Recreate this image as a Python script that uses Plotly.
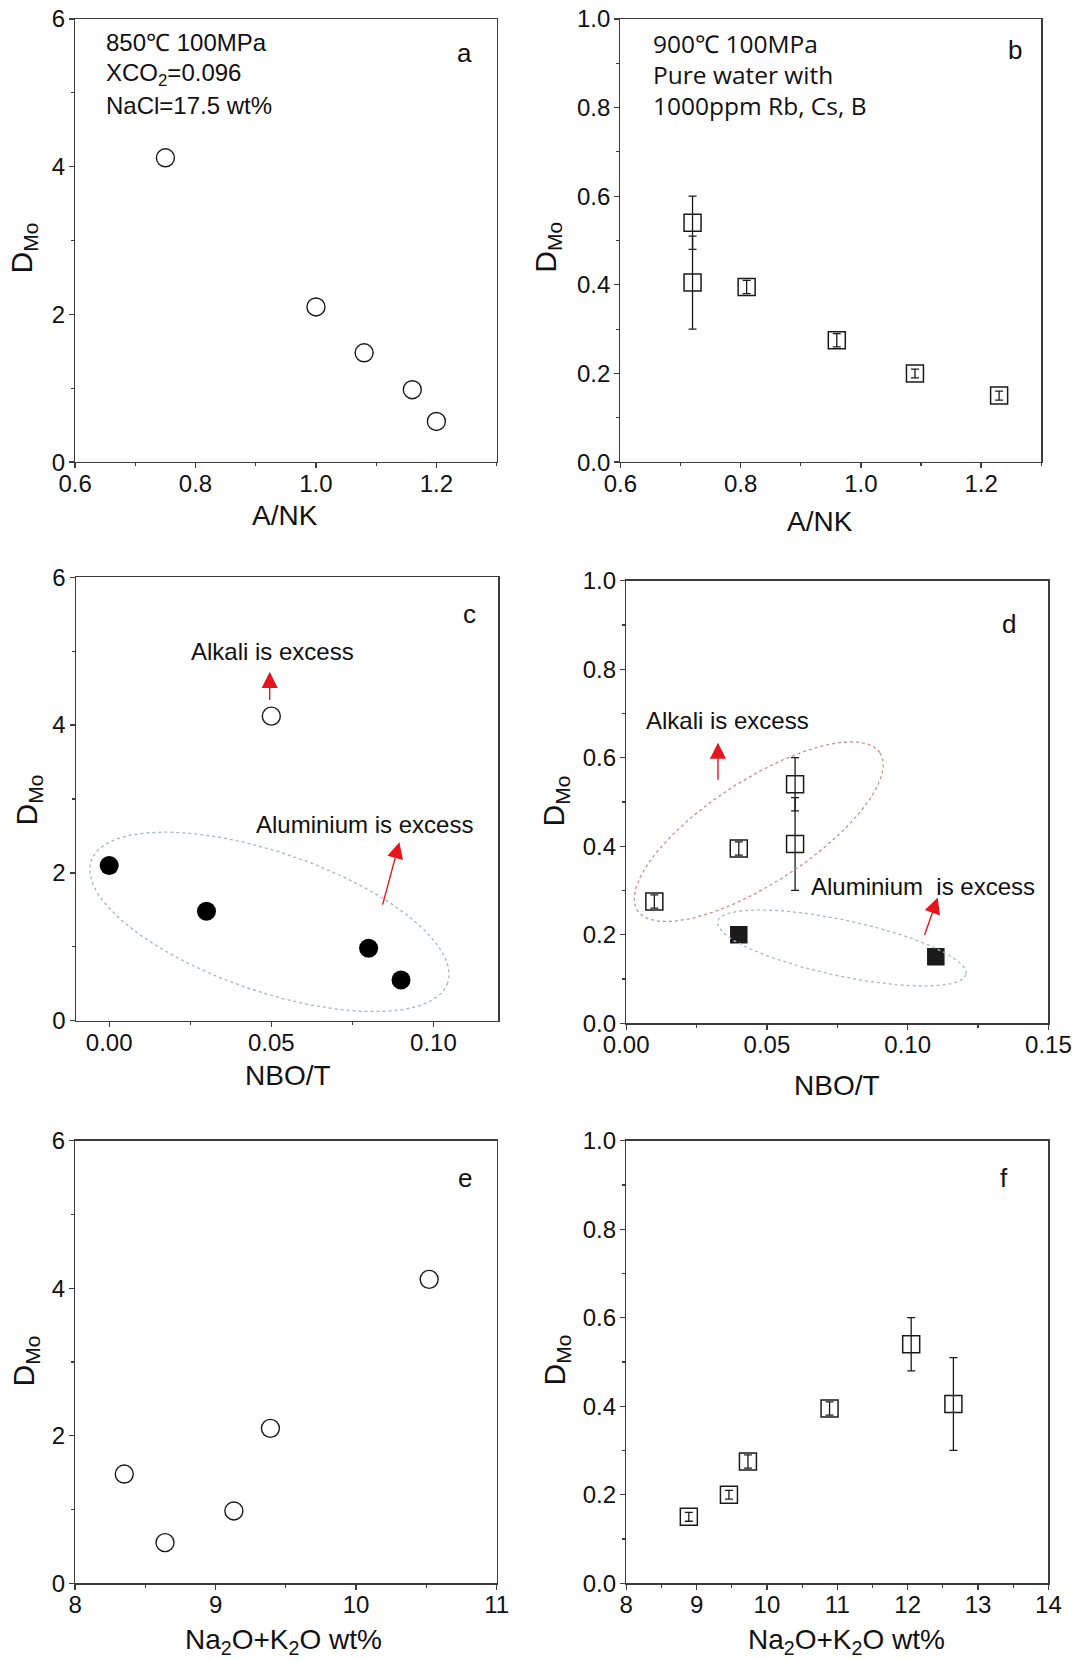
import numpy as np
import plotly.graph_objects as go

# ---------------- data ----------------
# Experiment series 1 (850 C, 100 MPa, XCO2=0.096, NaCl=17.5 wt%)
exp1_ank = [0.75, 1.00, 1.08, 1.16, 1.20]
exp1_nbot = [0.05, 0.00, 0.03, 0.08, 0.09]
exp1_alk = [10.52, 9.39, 8.35, 9.13, 8.64]
exp1_dmo = [4.12, 2.10, 1.48, 0.98, 0.55]

# Experiment series 2 (900 C, 100 MPa, pure water with 1000 ppm Rb, Cs, B)
exp2_ank = [0.72, 0.72, 0.81, 0.96, 1.09, 1.23]
exp2_nbot = [0.06, 0.06, 0.04, 0.01, 0.04, 0.11]
exp2_alk = [12.05, 12.65, 10.89, 9.73, 9.46, 8.89]
exp2_dmo = [0.54, 0.405, 0.395, 0.275, 0.20, 0.15]
exp2_err = [0.06, 0.105, 0.015, 0.015, 0.01, 0.01]

# ---------------- layout geometry ----------------
W, H = 1076, 1660
FONT = "Liberation Sans, Arial, sans-serif"
LINE = "#3c3c3c"
INK = "#1a1a1a"
RED = "#e8141c"

boxes = {  # left, right, top, bottom in pixels
    1: (75.1, 496.6, 18.9, 462.1),
    2: (620.4, 1041.2, 18.9, 462.1),
    3: (75.8, 498.3, 577.2, 1020.7),
    4: (626.2, 1048.4, 580.7, 1023.2),
    5: (75.1, 496.6, 1140.7, 1583.2),
    6: (626.2, 1048.4, 1140.7, 1583.2),
}
xranges = {1: [0.6, 1.3], 2: [0.6, 1.3], 3: [-0.0103, 0.12], 4: [0, 0.15], 5: [8, 11], 6: [8, 14]}
yranges = {1: [0, 6], 2: [0, 1], 3: [0, 6], 4: [0, 1], 5: [0, 6], 6: [0, 1]}
xticks = {1: (0.6, 0.2, 0.1, ".1f"), 2: (0.6, 0.2, 0.1, ".1f"), 3: (0, 0.05, 0.025, ".2f"),
          4: (0, 0.05, 0.025, ".2f"), 5: (8, 1, 0.5, "d"), 6: (8, 1, 0.5, "d")}
yticks = {1: (0, 2, 1, "d"), 2: (0, 0.2, 0.1, ".1f"), 3: (0, 2, 1, "d"),
          4: (0, 0.2, 0.1, ".1f"), 5: (0, 2, 1, "d"), 6: (0, 0.2, 0.1, ".1f")}


def px(xp):
    return xp / W


def py(yp):
    return 1 - yp / H


fig = go.Figure()

# ---------------- traces ----------------
def open_circles(x, y, i):
    fig.add_trace(go.Scatter(x=x, y=y, mode="markers", xaxis=f"x{i}", yaxis=f"y{i}",
                             marker=dict(symbol="circle-open", size=18, color=INK, line=dict(width=1.4)),
                             showlegend=False, hoverinfo="skip"))


def squares(x, y, e, i, filled=False):
    fig.add_trace(go.Scatter(x=x, y=y, mode="markers", xaxis=f"x{i}", yaxis=f"y{i}",
                             error_y=dict(type="data", array=e, visible=True, color=INK, thickness=1.3, width=4),
                             marker=dict(symbol="square" if filled else "square-open", size=17 if not filled else 16,
                                         color=INK, line=dict(width=1.5, color=INK)),
                             showlegend=False, hoverinfo="skip"))


open_circles(exp1_ank, exp1_dmo, 1)
squares(exp2_ank, exp2_dmo, exp2_err, 2)

# panel c: open = alkali excess (A/NK < 1), filled = aluminium excess
c_open = [k for k in range(len(exp1_ank)) if exp1_ank[k] < 1]
c_fill = [k for k in range(len(exp1_ank)) if exp1_ank[k] >= 1]
open_circles([exp1_nbot[k] for k in c_open], [exp1_dmo[k] for k in c_open], 3)
fig.add_trace(go.Scatter(x=[exp1_nbot[k] for k in c_fill], y=[exp1_dmo[k] for k in c_fill], mode="markers",
                         xaxis="x3", yaxis="y3", marker=dict(symbol="circle", size=19, color="#000000"),
                         showlegend=False, hoverinfo="skip"))

d_open = [k for k in range(len(exp2_ank)) if exp2_ank[k] < 1]
d_fill = [k for k in range(len(exp2_ank)) if exp2_ank[k] >= 1]
squares([exp2_nbot[k] for k in d_open], [exp2_dmo[k] for k in d_open], [exp2_err[k] for k in d_open], 4)
squares([exp2_nbot[k] for k in d_fill], [exp2_dmo[k] for k in d_fill], [exp2_err[k] for k in d_fill], 4, filled=True)

open_circles(exp1_alk, exp1_dmo, 5)
squares(exp2_alk, exp2_dmo, exp2_err, 6)


# ---------------- dotted ellipses (group outlines) ----------------
def ellipse(i, cx, cy, a_px, b_px, theta_deg, color):
    l, r, t, b = boxes[i]
    ppx = (r - l) / (xranges[i][1] - xranges[i][0])
    ppy = (b - t) / (yranges[i][1] - yranges[i][0])
    tt = np.linspace(0, 2 * np.pi, 240)
    th = np.radians(theta_deg)
    dx = a_px * np.cos(tt) * np.cos(th) - b_px * np.sin(tt) * np.sin(th)
    dy = a_px * np.cos(tt) * np.sin(th) + b_px * np.sin(tt) * np.cos(th)
    fig.add_trace(go.Scatter(x=cx + dx / ppx, y=cy - dy / ppy, mode="lines", xaxis=f"x{i}", yaxis=f"y{i}",
                             line=dict(color=color, width=1.3, dash="dot"), showlegend=False, hoverinfo="skip"))


ellipse(3, 0.0494, 1.337, 188.4, 69.6, 18.9, "#9db7c4")
ellipse(4, 0.0471, 0.4327, 144.6, 51.7, -33, "#d48a8a")
ellipse(4, 0.0766, 0.170, 127, 28, 12, "#a3bcc4")

# ---------------- axes ----------------
for i in range(1, 7):
    l, r, t, b = boxes[i]
    x0, xd, xm, xf = xticks[i]
    y0, yd, ym, yf = yticks[i]
    common = dict(showline=True, linecolor=LINE, linewidth=1.3, mirror=True, showgrid=False, zeroline=False,
                  automargin=False, ticks="outside", ticklen=5, tickwidth=1.3, tickcolor=LINE,
                  tickfont=dict(family=FONT, size=24, color="#111111"))
    fig.update_layout(**{
        f"xaxis{i}": dict(domain=[px(l), px(r)], range=xranges[i], anchor=f"y{i}", tick0=x0, dtick=xd,
                          tickformat=xf, ticklabelstandoff=-5,
                          minor=dict(ticks="outside", ticklen=3, tickwidth=1.2, tickcolor=LINE,
                                     dtick=xm, tick0=x0, showgrid=False), **common),
        f"yaxis{i}": dict(domain=[py(b), py(t)], range=yranges[i], anchor=f"x{i}", tick0=y0, dtick=yd,
                          tickformat=yf, ticklabelstandoff=-1,
                          minor=dict(ticks="outside", ticklen=3, tickwidth=1.2, tickcolor=LINE,
                                     dtick=ym, tick0=y0, showgrid=False), **common),
    })

# ---------------- text ----------------
ann = []


def txt(x, y, s, size=23, family=FONT, xanchor="center", angle=0, yanchor="middle"):
    ann.append(dict(x=px(x), y=py(y), xref="paper", yref="paper", text=s, showarrow=False,
                    xanchor=xanchor, yanchor=yanchor, textangle=angle,
                    font=dict(family=family, size=size, color="#111111")))


# axis titles
txt(285.3, 515.3, "A/NK", 28)
txt(819.7, 521, "A/NK", 28)
txt(287.5, 1075, "NBO/T", 28)
txt(837.3, 1085, "NBO/T", 28)
txt(283, 1641, "Na<sub>2</sub>O+K<sub>2</sub>O wt%", 28)
txt(846, 1641, "Na<sub>2</sub>O+K<sub>2</sub>O wt%", 28)
for (xx, yy) in [(23, 248.5), (547.7, 247), (28, 800.5), (555.5, 801), (24.5, 1361), (555.5, 1360)]:
    txt(xx, yy, "D<sub>Mo</sub>", 30, angle=-90)

# panel letters
for (xx, yy, s) in [(464.9, 53, "a"), (1014.6, 50, "b"), (469, 614, "c"), (1008.5, 624, "d"),
                    (464.9, 1178, "e"), (1004.3, 1178, "f")]:
    txt(xx, yy, s, 26)

# condition labels
txt(104, 43, "850℃ 100MPa", 24, xanchor="left")
txt(104, 74, "XCO<sub>2</sub>=0.096", 24, xanchor="left")
txt(104, 106, "NaCl=17.5 wt%", 24, xanchor="left")
OS = "Open Sans, sans-serif"
txt(651, 43.5, "900℃ 100MPa", 24.5, family=OS, xanchor="left")
txt(651, 74.5, "Pure water with", 24.5, family=OS, xanchor="left")
txt(651, 106, "1000ppm Rb, Cs, B", 24.5, family=OS, xanchor="left")

fig.update_layout(annotations=ann)

# data-space annotations (panel c and d)
def dtext(i, x, y, s):
    fig.add_annotation(x=x, y=y, xref=f"x{i}", yref=f"y{i}", text=s, showarrow=False,
                       font=dict(family=FONT, size=24, color="#111111"))


def arrow(i, x_tail, y_tail, x_head, y_head):
    fig.add_annotation(x=x_head, y=y_head, ax=x_tail, ay=y_tail, xref=f"x{i}", yref=f"y{i}",
                       axref=f"x{i}", ayref=f"y{i}", text="", showarrow=True, arrowhead=2,
                       arrowsize=2.3, arrowwidth=1.4, arrowcolor=RED)


dtext(3, 0.0504, 5.0, "Alkali is excess")
arrow(3, 0.0495, 4.32, 0.0495, 4.72)
dtext(3, 0.0788, 2.655, "Aluminium is excess")
arrow(3, 0.0842, 1.551, 0.0895, 2.413)

dtext(4, 0.036, 0.685, "Alkali is excess")
arrow(4, 0.0326, 0.547, 0.0326, 0.634)
dtext(4, 0.1053, 0.309, "Aluminium  is excess")
arrow(4, 0.1058, 0.196, 0.1107, 0.284)

fig.update_layout(template="none", width=W, height=H, margin=dict(l=0, r=0, t=0, b=0, pad=0),
                  paper_bgcolor="white", plot_bgcolor="white", showlegend=False)

fig.write_html("out.html", config={"displayModeBar": False, "staticPlot": True},
               post_script="document.body.style.margin='0';document.body.style.padding='0';"
                           "document.body.style.overflow='hidden';")
